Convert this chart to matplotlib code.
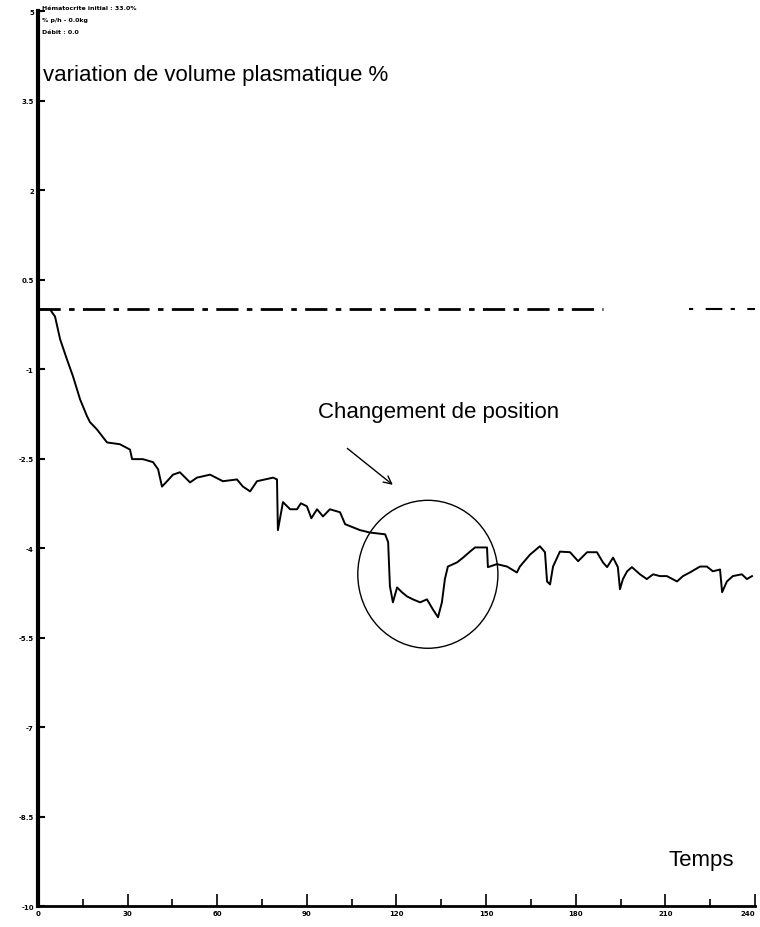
import matplotlib

matplotlib.use("Agg")
import matplotlib.pyplot as plt
from matplotlib.patches import Ellipse

# time (min) and plasma volume variation (%)
temps = [0, 4.0, 5.7, 7.4, 9.7, 11.7, 14.1, 16.4, 17.4, 19.7, 23.1, 27.4, 30.8,
         31.5, 35.1, 38.5, 40.2, 41.5, 43.2, 45.2, 47.5, 50.9, 53.2, 57.6, 61.9,
         66.6, 68.6, 71.0, 73.3, 78.7, 80.0, 80.3, 82.0, 84.4, 86.7, 88.0, 90.0,
         91.5, 93.4, 95.4, 97.7, 101.1, 102.8, 107.8, 111.1, 116.2, 117.2, 117.8,
         118.8, 120.2, 121.8, 123.5, 125.5, 127.9, 130.2, 132.2, 133.9, 135.2,
         136.2, 137.2, 140.3, 142.3, 144.6, 146.3, 150.3, 150.6, 153.6, 157.0,
         160.3, 161.3, 164.7, 168.0, 169.7, 170.4, 171.4, 172.4, 174.7, 178.1,
         180.8, 183.8, 187.1, 189.1, 190.5, 192.5, 194.1, 194.8, 195.8, 197.2,
         198.8, 201.5, 203.8, 205.9, 208.2, 210.5, 213.9, 215.9, 218.2, 221.6,
         223.9, 225.9, 228.3, 229.0, 230.6, 232.6, 235.6, 237.3, 239.0]
volume = [0, 0, -0.12, -0.50, -0.84, -1.12, -1.51, -1.79, -1.89, -2.01, -2.23,
          -2.26, -2.35, -2.51, -2.51, -2.56, -2.68, -2.97, -2.88, -2.77, -2.73,
          -2.90, -2.82, -2.77, -2.88, -2.85, -2.97, -3.05, -2.88, -2.82, -2.85,
          -3.70, -3.23, -3.35, -3.35, -3.25, -3.30, -3.50, -3.35, -3.47, -3.35,
          -3.40, -3.60, -3.70, -3.74, -3.77, -3.90, -4.64, -4.91, -4.66, -4.74,
          -4.81, -4.86, -4.91, -4.86, -5.03, -5.16, -4.91, -4.52, -4.31, -4.24,
          -4.16, -4.06, -3.99, -3.99, -4.32, -4.27, -4.31, -4.41, -4.31, -4.11,
          -3.97, -4.07, -4.56, -4.61, -4.31, -4.06, -4.07, -4.22, -4.07, -4.07,
          -4.24, -4.32, -4.16, -4.32, -4.69, -4.52, -4.39, -4.32, -4.44, -4.52,
          -4.44, -4.47, -4.47, -4.56, -4.47, -4.41, -4.31, -4.31, -4.39, -4.36,
          -4.74, -4.56, -4.47, -4.44, -4.52, -4.47]

y_ticks = [5.0, 3.5, 2.0, 0.5, -1.0, -2.5, -4.0, -5.5, -7.0, -8.5, -10.0]
x_ticks = [0, 30, 60, 90, 120, 150, 180, 210, 240]
header = ["Hématocrite initial : 33.0%", "% p/h - 0.0kg", "Débit : 0.0"]

FONT = "Liberation Sans"

fig = plt.figure(figsize=(7.6, 9.28), dpi=100)
ax = fig.add_axes([0.05, 0.0226, 0.9434, 0.9644])

ax.plot(temps, volume, color="black", lw=1.4)

# baseline (dash-dot), with the faded gap on the right
ax.plot([0, 189], [0, 0], color="black", lw=2.0, ls=(0, (8, 3, 2, 3)))
ax.plot([218, 240], [0, 0], color="black", lw=1.5, ls=(0, (2, 6, 8, 4)))

ax.set_xlim(0, 240)
ax.set_ylim(-10, 5)
ax.set_yticks(y_ticks)
ax.set_yticklabels([f"{v:g}" for v in y_ticks], fontsize=5, fontweight="bold")
ax.set_xticks(x_ticks)
ax.set_xticks([t + 15 for t in x_ticks[:-1]], minor=True)
ax.set_xticklabels([str(t) for t in x_ticks], fontsize=5, fontweight="bold")
ax.get_xticklabels()[-1].set_horizontalalignment("right")
ax.tick_params(axis="y", direction="in", length=5, width=1.5, pad=3)
ax.tick_params(axis="x", which="major", direction="in", length=9, width=1.2, pad=3)
ax.tick_params(axis="x", which="minor", direction="in", length=5, width=1.2)
ax.spines["top"].set_visible(False)
ax.spines["right"].set_visible(False)
ax.spines["left"].set_linewidth(3)
ax.spines["bottom"].set_linewidth(2)

for i, line in enumerate(header):
    ax.text(1.3, 5.06 - 0.2 * i, line, fontsize=4.5, fontweight="bold",
            va="center", ha="left", clip_on=False)

ax.text(1.7, 3.94, "variation de volume plasmatique %", family=FONT,
        fontsize=16, va="center", ha="left")
ax.text(93.7, -1.71, "Changement de position", family=FONT,
        fontsize=16, va="center", ha="left")
ax.text(210.9, -9.22, "Temps", family=FONT, fontsize=16, va="center", ha="left")

ax.annotate("", xy=(119.5, -2.97), xytext=(102.8, -2.30),
            arrowprops=dict(arrowstyle="->", color="black", lw=1.0,
                            mutation_scale=14))
ax.add_patch(Ellipse((130.5, -4.44), 46.9, 2.48, fill=False,
                     edgecolor="black", lw=1.0))

fig.savefig("out.png", dpi=100)
